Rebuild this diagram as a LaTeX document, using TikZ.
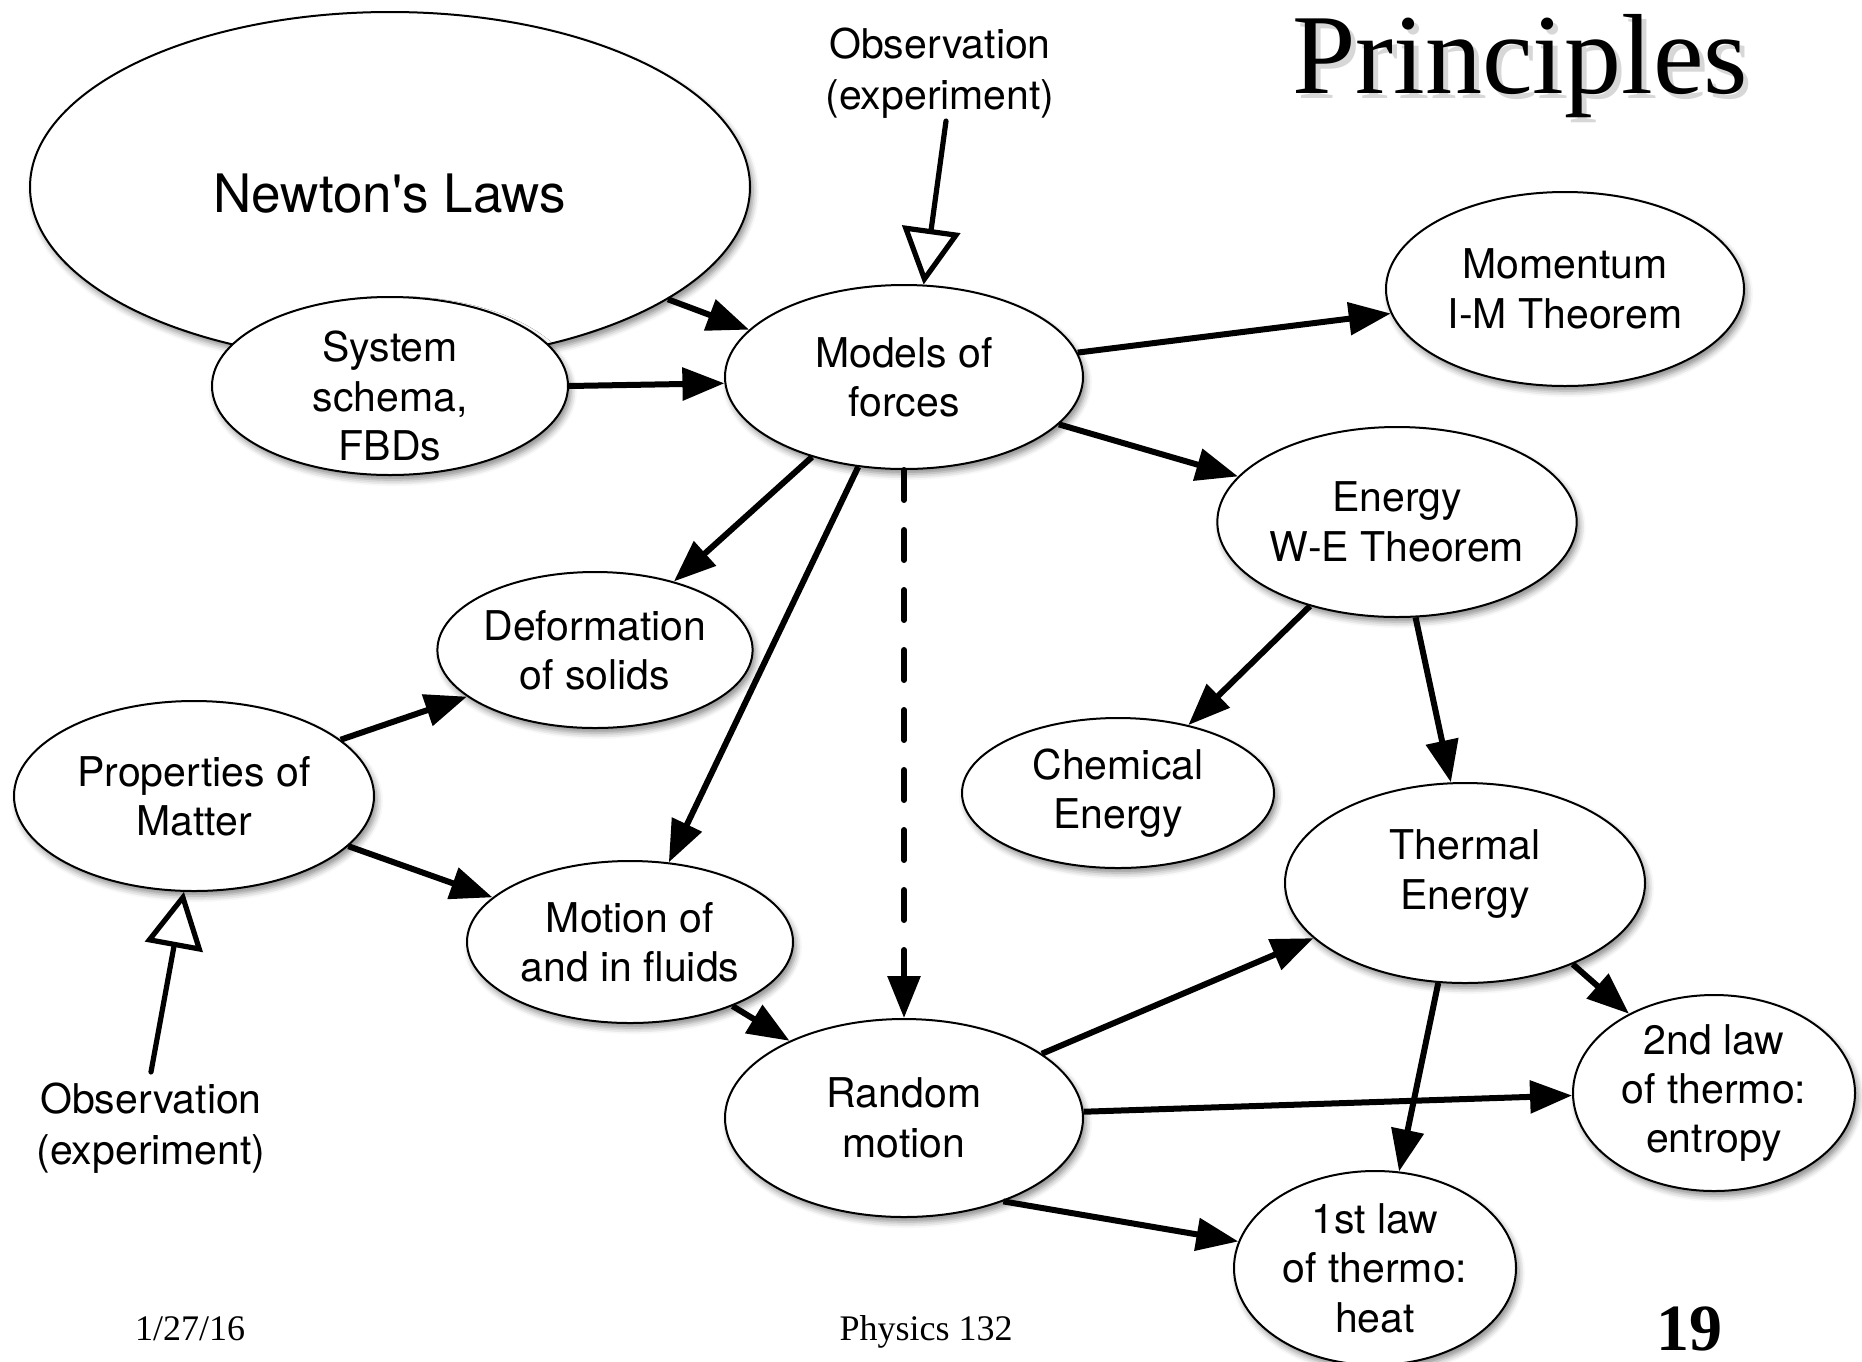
\documentclass[tikz,border=0pt]{standalone}
\usepackage{fontspec}
\setmainfont{TeX Gyre Heros}[Ligatures=TeXOff]
\newfontfamily\timesf{Liberation Serif}
\usetikzlibrary{shapes.geometric,arrows.meta,shadows.blur}
\newcommand\shiftedlines[2]{\raisebox{#1}[\height][\depth]{\begin{tabular}{@{}c@{}}#2\end{tabular}}}
\begin{document}
\begin{tikzpicture}[x=0.5pt,y=-0.5pt,
  concept/.style={ellipse, draw, line width=1pt, fill=white, inner sep=0pt, align=center,
    font=\fontsize{20.5}{24.7}\selectfont,
    blur shadow={shadow xshift=1.5pt, shadow yshift=-2.5pt, shadow blur radius=3pt, shadow opacity=45}},
  conn/.style={line width=3pt, -{Triangle[length=21pt,width=16pt]}},
  obsarrow/.style={line width=2.6pt, line cap=round, -{Triangle[open,length=28pt,width=29pt]}},
  plaintext/.style={align=center, font=\fontsize{20.5}{25.2}\selectfont},
  footer/.style={anchor=base, inner sep=0pt, font=\timesf\fontsize{18}{20}\selectfont}
]
\useasboundingbox (0,0) rectangle (1862,1361);

% title
\node[anchor=base, inner sep=0pt, text=black!35, opacity=0.45, font=\timesf\fontsize{57}{60}\selectfont] (titleshadow) at (1525,98) {Principles};
\node[anchor=base, inner sep=0pt, font=\timesf\fontsize{57}{60}\selectfont] (title) at (1520,93) {Principles};

% nodes
\node[concept, minimum width=360pt, minimum height=175pt, font=\fontsize{26.5}{30}\selectfont] (newton) at (390,187) {\raisebox{-3.5pt}[\height][\depth]{Newton's Laws}};
\node[concept, minimum width=178pt, minimum height=89pt, inner sep=-10pt] (system) at (390,386) {\shiftedlines{-7.7pt}{System\\schema,\\FBDs}};
\node[concept, minimum width=179pt, minimum height=92pt] (models) at (904,377) {Models of\\forces};
\node[concept, minimum width=179pt, minimum height=97pt] (momentum) at (1565,289) {Momentum\\I-M Theorem};
\node[concept, minimum width=179pt, minimum height=95pt] (energy) at (1397,522) {Energy\\W-E Theorem};
\node[concept, minimum width=155pt, minimum height=78pt] (deform) at (595,650) {Deformation\\of solids};
\node[concept, minimum width=180pt, minimum height=95pt] (props) at (194,796) {Properties of\\Matter};
\node[concept, minimum width=163pt, minimum height=81pt] (motion) at (630,942) {Motion of\\and in fluids};
\node[concept, minimum width=156pt, minimum height=75pt] (chem) at (1118,793) {Chemical\\Energy};
\node[concept, minimum width=180pt, minimum height=100pt] (thermal) at (1465,883) {\shiftedlines{4.2pt}{Thermal\\Energy}};
\node[concept, minimum width=179pt, minimum height=99pt] (random) at (904,1118) {Random\\motion};
\node[concept, minimum width=141pt, minimum height=98pt, inner sep=-6pt] (second) at (1714,1093) {2nd law\\of thermo:\\entropy};
\node[concept, minimum width=141pt, minimum height=97pt, inner sep=-6pt] (first) at (1375,1268) {1st law\\of thermo:\\heat};

\node[plaintext] (obs1) at (940,73) {Observation\\(experiment)};
\node[plaintext] (obs2) at (151,1128) {Observation\\(experiment)};

% footer
\node[footer] (date) at (190,1340) {1/27/16};
\node[footer] (course) at (926,1340) {Physics 132};
\node[anchor=base, inner sep=0pt, font=\timesf\bfseries\fontsize{33}{36}\selectfont] (page) at (1689,1350) {19};

% connectors
\draw[conn] (newton.-22) -- (models.163);
\draw[conn] (system.0) -- (models.182);
\draw[obsarrow] ([xshift=3pt,yshift=2pt]obs1.south) -- (models.78);
\draw[conn] (models.8) -- (momentum.188);
\draw[conn] (models.343) -- (energy.164);
\draw[conn] (models.221) -- (deform.41);
\draw[conn] (models.243) -- (motion.64);
\draw[conn, line cap=round, dash pattern=on 15pt off 15pt] (models.south) -- (random.north);
\draw[conn] (props.21) -- (deform.200);
\draw[conn] (props.342) -- (motion.162);
\draw[obsarrow] ([yshift=2pt]obs2.north) -- (props.264);
\draw[conn] (motion.328) -- (random.146);
\draw[conn] (energy.224) -- (chem.44);
\draw[conn] (energy.281) -- (thermal.98);
\draw[conn] (random.25) -- (thermal.200);
\draw[conn] (random.2) -- (second.181);
\draw[conn] (random.320) -- (first.169);
\draw[conn] (thermal.255) -- (first.76);
\draw[conn] (thermal.323) -- (second.137);
\end{tikzpicture}
\end{document}
